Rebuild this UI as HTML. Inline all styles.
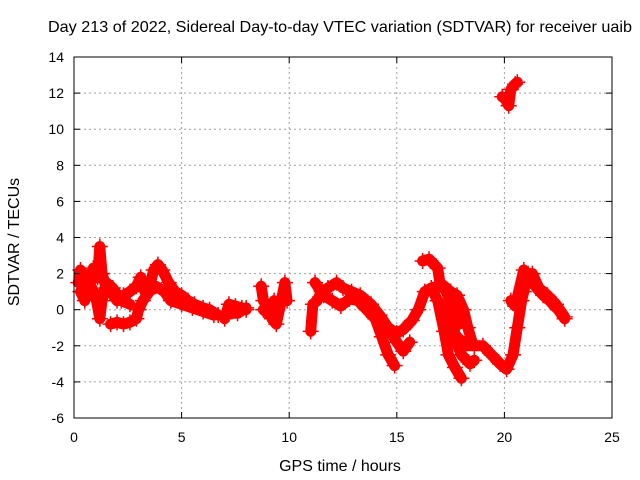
<!DOCTYPE html>
<html><head><meta charset="utf-8"><style>
body{margin:0;background:#fff}
svg{display:block;font-family:"Liberation Sans",sans-serif}
</style></head><body>
<svg id="chart" width="640" height="480" viewBox="0 0 640 480">
<rect width="640" height="480" fill="#fff"/>
<text x="340" y="32" text-anchor="middle" font-size="16" textLength="584" lengthAdjust="spacingAndGlyphs">Day 213 of 2022, Sidereal Day-to-day VTEC variation (SDTVAR) for receiver uaib</text>
<text x="340" y="471" text-anchor="middle" font-size="16">GPS time / hours</text>
<text transform="translate(19,242) rotate(-90)" text-anchor="middle" font-size="16">SDTVAR / TECUs</text>
<g id="grid"></g>
<g id="marks"></g>
<rect x="74" y="57" width="538" height="361" fill="none" stroke="#000" stroke-width="1"/>
<g id="ticks"></g>
</svg>
<script>
const xTicks=[0,5,10,15,20,25];
const yTicks=[-6,-4,-2,0,2,4,6,8,10,12,14];
const track1=[[0.2,1.5],[0.3,2.2],[0.5,1.8],[0.7,1.2],[0.9,2.3],[1.1,1.8],[1.2,3.5],[1.3,2.0],[1.5,1.2],[1.7,1.0],[2.0,0.5],[2.3,0.8],[2.6,1.0],[2.9,1.3],[3.1,1.8],[3.3,1.0],[3.5,1.2],[3.7,2.2],[3.9,2.5],[4.1,2.2],[4.4,1.5],[4.7,1.0],[5.0,0.8],[5.3,0.5],[5.6,0.3],[6.0,0.1],[6.3,0.0],[6.7,-0.3]];
const track2=[[1.7,-0.8],[2.0,-0.7],[2.3,-0.8],[2.6,-0.7],[2.9,-0.5],[3.0,0.0],[3.2,0.5],[3.5,1.0],[3.8,1.3],[4.2,1.0],[4.5,0.5],[5.0,0.3],[5.5,0.1],[6.0,-0.1],[6.5,-0.3]];
const track3=[[0.3,1.0],[0.5,0.5],[0.7,1.5],[1.0,0.8],[1.2,-0.5],[1.3,0.5],[1.5,1.5],[1.8,1.2],[2.2,0.5],[2.6,0.3]];
const track4=[[7.0,-0.5],[7.2,0.3],[7.5,0.2],[7.8,0.1],[8.0,0.0]];
const track5=[[7.2,-0.2],[7.6,-0.2],[8.0,0.1]];
const track6=[[8.7,1.3],[8.8,0.5],[9.0,0.2],[9.2,-0.5],[9.4,-0.8],[9.6,0.3],[9.8,1.5],[9.9,0.5]];
const track7=[[8.8,0.0],[9.1,-0.3],[9.3,0.5]];
const track8=[[11.0,-1.2],[11.1,0.3],[11.3,0.5],[11.5,1.0],[11.8,1.2],[12.2,1.5],[12.5,1.2],[12.9,1.0],[13.3,0.8],[13.8,0.3],[14.2,-0.3],[14.6,-1.0],[15.0,-1.3],[15.3,-1.1],[15.7,-0.6],[16.0,0.0],[16.3,1.0],[16.6,1.2],[16.9,0.5],[17.2,-0.3],[17.5,-1.0],[17.8,-1.5],[18.2,-2.0],[18.6,-2.0],[19.0,-2.0],[19.4,-2.5],[19.8,-3.0],[20.1,-3.3],[20.4,-2.5],[20.6,-1.0],[20.8,0.5],[20.9,1.0],[21.1,2.0],[21.3,2.0],[21.6,1.2],[22.0,0.8],[22.4,0.3],[22.8,-0.4]];
const track9=[[11.2,1.5],[11.6,0.8],[12.0,0.5],[12.4,0.2],[12.8,0.6],[13.2,0.5],[13.6,0.0],[14.0,-0.5],[14.3,-1.5],[14.6,-2.5],[14.9,-3.1]];
const track10=[[14.6,-1.0],[15.0,-1.8],[15.3,-2.3],[15.6,-1.8]];
const track11=[[16.2,2.7],[16.5,2.8],[16.9,2.3],[17.0,1.5],[17.3,1.0],[17.6,0.0],[17.9,-0.8]];
const track12=[[17.0,1.5],[17.5,1.0],[17.8,0.8],[18.1,0.0],[18.3,-1.0],[18.5,-1.8]];
const track13=[[16.9,0.5],[17.2,-1.2],[17.4,-2.5],[17.7,-3.2],[18.0,-3.8]];
const track14=[[17.5,-1.0],[18.0,-2.5],[18.4,-3.0],[18.6,-2.8]];
const track15=[[20.3,0.5],[20.5,0.2],[20.9,2.2],[21.2,1.8],[21.5,1.2],[21.8,0.8],[22.1,0.5],[22.5,0.0],[22.8,-0.5]];
const track16=[[19.9,11.8],[20.1,11.6],[20.2,11.3],[20.3,12.2],[20.5,12.5],[20.6,12.6]];
const tracks=[track1,track2,track3,track4,track5,track6,track7,track8,track9,track10,track11,track12,track13,track14,track15,track16];

const X0=74,X1=612,Y0=418,Y1=57;
const sx=h=>X0+(h-0)/(25-0)*(X1-X0);
const sy=v=>Y0-(v+6)/(14+6)*(Y0-Y1);
const NS="http://www.w3.org/2000/svg";
const grid=document.getElementById('grid'),ticks=document.getElementById('ticks'),marks=document.getElementById('marks');
function mk(tag,attrs,parent){const e=document.createElementNS(NS,tag);for(const k in attrs)e.setAttribute(k,attrs[k]);parent.appendChild(e);return e;}
xTicks.forEach(t=>{
  const x=sx(t);
  if(t>0&&t<25){const g=mk('line',{x1:x,y1:Y1,x2:x,y2:Y0,stroke:'#a0a0a0','stroke-dasharray':'2,3'},grid);
  
  }
  mk('line',{x1:x,y1:Y0,x2:x,y2:Y0-6,stroke:'#000'},ticks);
  mk('line',{x1:x,y1:Y1,x2:x,y2:Y1+6,stroke:'#000'},ticks);
  const l=mk('text',{x:x,y:Y0+24,'text-anchor':'middle','font-size':'14'},ticks);l.textContent=t;
  
  
});
yTicks.forEach(t=>{
  const y=sy(t);
  if(t>-6&&t<14){const g=mk('line',{x1:X0,y1:y,x2:X1,y2:y,stroke:'#a0a0a0','stroke-dasharray':'2,3'},grid);
  
  }
  mk('line',{x1:X0,y1:y,x2:X0+6,y2:y,stroke:'#000'},ticks);
  mk('line',{x1:X1,y1:y,x2:X1-6,y2:y,stroke:'#000'},ticks);
  const l=mk('text',{x:X0-10,y:y+5,'text-anchor':'end','font-size':'14'},ticks);l.textContent=t;
  
  
});
tracks.forEach((tr,i)=>{
  const p=mk('polyline',{points:tr.map(d=>sx(d[0])+','+sy(d[1])).join(' '),fill:'none',stroke:'#f00','stroke-width':11,'stroke-linejoin':'round','stroke-linecap':'round'},marks);
  
  
  tr.forEach(d=>{
    const x=sx(d[0]),y=sy(d[1]);
    const m=mk('path',{d:`M${x-8},${y}H${x+8}M${x},${y-8}V${y+8}`,stroke:'#f00','stroke-width':1.5},marks);
    
    
  });
});
</script>
</body></html>
